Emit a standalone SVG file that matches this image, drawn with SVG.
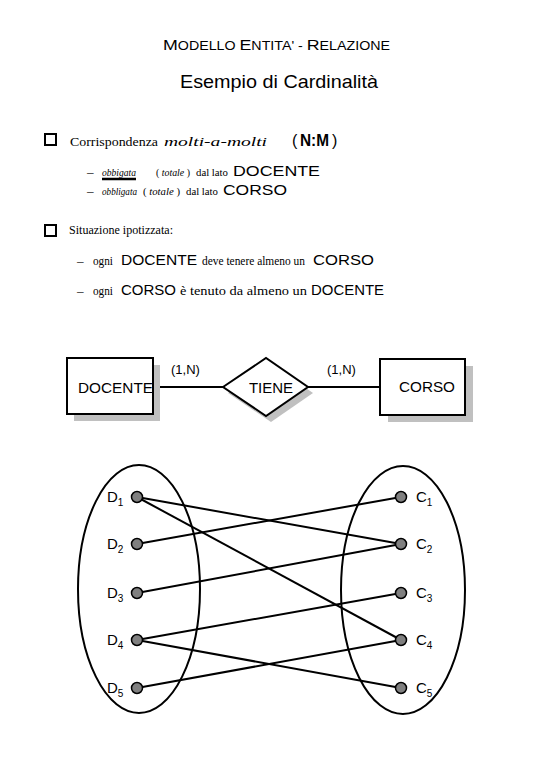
<svg xmlns="http://www.w3.org/2000/svg" width="540" height="780" viewBox="0 0 540 780">
<style>
.sans{font-family:"Liberation Sans",Arial,sans-serif;fill:#000}
.ser{font-family:"Liberation Serif","Times New Roman",serif;fill:#000;font-size:13px}
.sm{font-size:10px}
.it{font-style:italic}
.big{font-size:15px}
.box{fill:none;stroke:#000;stroke-width:2}
.ent{fill:#fff;stroke:#000;stroke-width:2}
.sh{fill:#c0c0c0;stroke:none}
.ln{stroke:#000;stroke-width:2;fill:none}
.dot{fill:#808080;stroke:#000;stroke-width:1.5}
.lbl{font-family:"Liberation Sans",Arial,sans-serif;font-size:15px;fill:#000}
.sub{font-size:10px}
</style>
<rect width="540" height="780" fill="#fff"/>

<g id="header">
<text class="sans" x="163" y="50" font-size="12" textLength="227" lengthAdjust="spacingAndGlyphs"><tspan font-size="15">M</tspan>ODELLO  <tspan font-size="15">E</tspan>NTITA' - <tspan font-size="15">R</tspan>ELAZIONE</text>
<text class="sans" x="180" y="88" font-size="18.5" textLength="198" lengthAdjust="spacingAndGlyphs">Esempio di Cardinalità</text>
</g>

<g id="text-block">
<rect class="box" x="45" y="134" width="11" height="11"/>
<text class="ser" x="70" y="146" textLength="88" lengthAdjust="spacingAndGlyphs">Corrispondenza</text>
<text class="ser it" x="164" y="146" font-size="18" textLength="103" lengthAdjust="spacingAndGlyphs">molti-a-molti</text>
<text class="sans" x="292" y="146" font-size="16">(</text>
<text class="sans" x="300" y="146" font-size="16" font-weight="bold" textLength="29" lengthAdjust="spacingAndGlyphs">N:M</text>
<text class="sans" x="332" y="146" font-size="16">)</text>

<text class="ser" x="87" y="176">–</text>
<text class="ser sm it" x="102" y="176" textLength="34" lengthAdjust="spacingAndGlyphs">obbigata</text>
<line x1="102" y1="179" x2="136" y2="179" stroke="#000" stroke-width="2.5"/>
<text class="ser sm" x="156" y="176" textLength="34" lengthAdjust="spacingAndGlyphs">( <tspan class="it">totale</tspan> )</text>
<text class="ser sm" x="196" y="176" textLength="32" lengthAdjust="spacingAndGlyphs">dal lato</text>
<text class="sans big" x="233" y="176" textLength="87" lengthAdjust="spacingAndGlyphs">DOCENTE</text>

<text class="ser" x="87" y="195">–</text>
<text class="ser sm it" x="102" y="195" textLength="35" lengthAdjust="spacingAndGlyphs">obbligata</text>
<text class="ser sm" x="143" y="195" textLength="37" lengthAdjust="spacingAndGlyphs">( <tspan class="it">totale</tspan> )</text>
<text class="ser sm" x="186" y="195" textLength="32" lengthAdjust="spacingAndGlyphs">dal lato</text>
<text class="sans big" x="223" y="195" textLength="64" lengthAdjust="spacingAndGlyphs">CORSO</text>

<rect class="box" x="45" y="225" width="11" height="11"/>
<text class="ser" x="69" y="234" font-size="14" textLength="104" lengthAdjust="spacingAndGlyphs">Situazione ipotizzata:</text>

<text class="ser" x="77" y="265">–</text>
<text class="ser" x="93" y="265" textLength="20" lengthAdjust="spacingAndGlyphs">ogni</text>
<text class="sans big" x="121" y="265" textLength="76" lengthAdjust="spacingAndGlyphs">DOCENTE</text>
<text class="ser" x="202" y="265" font-size="11" textLength="103" lengthAdjust="spacingAndGlyphs">deve tenere almeno un</text>
<text class="sans big" x="313" y="265" textLength="61" lengthAdjust="spacingAndGlyphs">CORSO</text>

<text class="ser" x="77" y="295">–</text>
<text class="ser" x="93" y="295" textLength="20" lengthAdjust="spacingAndGlyphs">ogni</text>
<text class="sans big" x="121" y="295" textLength="55" lengthAdjust="spacingAndGlyphs">CORSO</text>
<text class="ser" x="180" y="295" textLength="127" lengthAdjust="spacingAndGlyphs">è tenuto da almeno un</text>
<text class="sans big" x="311" y="295" textLength="73" lengthAdjust="spacingAndGlyphs">DOCENTE</text>
</g>

<g id="er-connectors">
<line class="ln" x1="153" y1="387" x2="223" y2="387"/>
<line class="ln" x1="308" y1="387" x2="380" y2="387"/>
<text class="sans" x="171" y="374" font-size="13">(1,N)</text>
<text class="sans" x="327" y="374" font-size="13">(1,N)</text>
</g>

<g id="DOCENTE">
<rect class="sh" x="74" y="365" width="86" height="56"/>
<rect class="ent" x="67" y="358" width="86" height="56"/>
<text class="sans" x="78" y="393" font-size="15" textLength="75" lengthAdjust="spacingAndGlyphs">DOCENTE</text>
</g>

<g id="TIENE">
<polygon class="sh" points="228,393 271,364 313,393 271,422"/>
<polygon class="ent" points="223,387 266,358 308,387 266,416"/>
<text class="sans" x="271" y="393" font-size="15" text-anchor="middle">TIENE</text>
</g>

<g id="CORSO">
<rect class="sh" x="388" y="366" width="85" height="56"/>
<rect class="ent" x="380" y="359" width="85" height="56"/>
<text class="sans" x="399" y="392" font-size="15" textLength="56" lengthAdjust="spacingAndGlyphs">CORSO</text>
</g>

<g id="sets">
<ellipse class="ln" cx="139" cy="589" rx="61" ry="124"/>
<ellipse class="ln" cx="403" cy="590" rx="62" ry="124"/>
</g>

<g id="connectors">
<line class="ln" x1="137" y1="497" x2="401" y2="544"/>
<line class="ln" x1="137" y1="497" x2="401" y2="640"/>
<line class="ln" x1="137" y1="544" x2="401" y2="497"/>
<line class="ln" x1="137" y1="593" x2="401" y2="544"/>
<line class="ln" x1="137" y1="640" x2="401" y2="593"/>
<line class="ln" x1="137" y1="640" x2="401" y2="688"/>
<line class="ln" x1="137" y1="688" x2="401" y2="640"/>
</g>

<g id="D1"><circle class="dot" cx="137" cy="497" r="5.5"/><text class="lbl" x="107" y="502">D<tspan class="sub" dy="4">1</tspan></text></g>
<g id="D2"><circle class="dot" cx="137" cy="544" r="5.5"/><text class="lbl" x="107" y="549">D<tspan class="sub" dy="4">2</tspan></text></g>
<g id="D3"><circle class="dot" cx="137" cy="593" r="5.5"/><text class="lbl" x="107" y="598">D<tspan class="sub" dy="4">3</tspan></text></g>
<g id="D4"><circle class="dot" cx="137" cy="640" r="5.5"/><text class="lbl" x="107" y="645">D<tspan class="sub" dy="4">4</tspan></text></g>
<g id="D5"><circle class="dot" cx="137" cy="688" r="5.5"/><text class="lbl" x="107" y="693">D<tspan class="sub" dy="4">5</tspan></text></g>

<g id="C1"><circle class="dot" cx="401" cy="497" r="5.5"/><text class="lbl" x="416" y="502">C<tspan class="sub" dy="4">1</tspan></text></g>
<g id="C2"><circle class="dot" cx="401" cy="544" r="5.5"/><text class="lbl" x="416" y="549">C<tspan class="sub" dy="4">2</tspan></text></g>
<g id="C3"><circle class="dot" cx="401" cy="593" r="5.5"/><text class="lbl" x="416" y="598">C<tspan class="sub" dy="4">3</tspan></text></g>
<g id="C4"><circle class="dot" cx="401" cy="640" r="5.5"/><text class="lbl" x="416" y="645">C<tspan class="sub" dy="4">4</tspan></text></g>
<g id="C5"><circle class="dot" cx="401" cy="688" r="5.5"/><text class="lbl" x="416" y="693">C<tspan class="sub" dy="4">5</tspan></text></g>
</svg>
